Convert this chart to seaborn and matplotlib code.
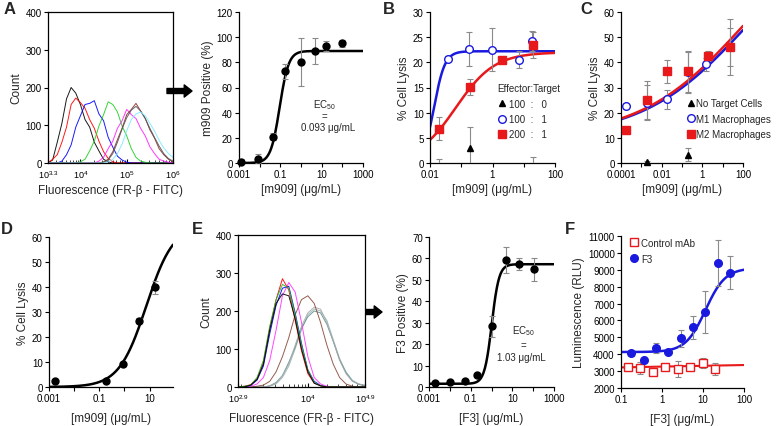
import numpy as np
import matplotlib
matplotlib.use('Agg')
import matplotlib.pyplot as plt
import seaborn as sns
from matplotlib.lines import Line2D

sns.set_theme(style='ticks')
plt.rcParams['font.family'] = ['Liberation Sans', 'DejaVu Sans']
plt.rcParams['mathtext.default'] = 'regular'

# ---------- histogram data (counts per log10 bin) ----------
hist_a_log = np.round(np.arange(3.3, 6.01, 0.1), 1)
hist_a = {
    'black':   [0, 8, 55, 105, 170, 200, 185, 155, 115, 95, 55, 32, 10, 3, 0, 0, 0, 0, 0, 0, 0, 0, 0, 0, 0, 0, 0, 0],
    'red':     [0, 10, 22, 55, 95, 155, 172, 160, 145, 115, 92, 58, 30, 12, 3, 0, 0, 0, 0, 0, 0, 0, 0, 0, 0, 0, 0, 0],
    'blue':    [0, 0, 0, 5, 22, 48, 95, 125, 155, 158, 165, 130, 112, 68, 42, 18, 8, 2, 0, 0, 0, 0, 0, 0, 0, 0, 0, 0],
    '#1fd11f': [0, 0, 0, 0, 0, 0, 0, 3, 10, 32, 58, 98, 128, 162, 155, 135, 98, 72, 38, 15, 5, 2, 0, 0, 0, 0, 0, 0],
    '#ff22ff': [0, 0, 0, 0, 0, 0, 0, 0, 0, 0, 0, 5, 15, 38, 58, 92, 112, 142, 128, 118, 92, 72, 43, 25, 10, 5, 2, 0],
    '#8b2f2f': [0, 0, 0, 0, 0, 0, 0, 0, 0, 0, 0, 0, 3, 10, 30, 62, 92, 128, 142, 158, 138, 118, 88, 66, 38, 22, 10, 3],
    '#555555': [0, 0, 0, 0, 0, 0, 0, 0, 0, 0, 0, 0, 2, 8, 25, 55, 90, 120, 140, 150, 138, 118, 92, 68, 45, 25, 12, 5],
    '#7fe8ff': [0, 0, 0, 0, 0, 0, 0, 0, 0, 0, 0, 0, 0, 3, 10, 25, 50, 85, 115, 130, 135, 125, 105, 85, 60, 40, 25, 15],
}

hist_e_log = np.round(np.arange(2.9, 4.91, 0.1), 1)
hist_e = {
    '#9ab8b8': [0, 0, 0, 0, 0, 2, 8, 25, 55, 100, 150, 190, 205, 200, 175, 125, 75, 40, 18, 8, 4],
    '#5f8f8f': [0, 0, 0, 0, 0, 3, 12, 30, 65, 105, 155, 185, 200, 195, 165, 120, 72, 38, 16, 7, 3],
    '#aaaaaa': [0, 0, 0, 0, 0, 3, 10, 30, 60, 110, 160, 195, 210, 205, 170, 120, 70, 35, 15, 8, 5],
    '#8b4a3a': [0, 0, 0, 2, 5, 15, 40, 80, 130, 190, 230, 240, 220, 170, 110, 60, 25, 8, 2, 0, 0],
    '#ff33ff': [0, 0, 2, 8, 25, 70, 150, 240, 275, 250, 170, 80, 25, 8, 2, 0, 0, 0, 0, 0, 0],
    'blue':    [0, 1, 4, 18, 55, 140, 215, 260, 265, 195, 115, 45, 15, 4, 0, 0, 0, 0, 0, 0, 0],
    'red':     [0, 2, 6, 22, 65, 155, 230, 285, 255, 175, 95, 35, 10, 3, 0, 0, 0, 0, 0, 0, 0],
    '#22bb22': [0, 2, 5, 25, 70, 160, 230, 270, 260, 190, 110, 45, 12, 3, 0, 0, 0, 0, 0, 0, 0],
    'black':   [0, 0, 5, 20, 60, 150, 220, 245, 240, 180, 100, 40, 10, 3, 0, 0, 0, 0, 0, 0, 0],
}

# ---------- dose-response data ----------
a_conc = [0.0013, 0.008, 0.045, 0.17, 0.97, 4.6, 17, 95]
a_pos = [0.5, 3.4, 21, 73, 80, 89, 92.7, 95]
a_err = [3, 3.5, 3, 6, 19, 10, 4, 3]
a_fit = (0, 89, 0.093, 2.0)

b_circ_conc = [0.037, 0.18, 0.94, 7.2, 17.8]
b_circ = [20.7, 22.7, 22.5, 20.5, 24.2]
b_circ_err = [0.5, 3.4, 4.3, 1.7, 2.0]
b_sq_conc = [0.02, 0.195, 1.95, 19.3]
b_sq = [6.8, 15.1, 20.4, 23.4]
b_sq_err = [2.3, 1.6, 0.6, 2.6]
b_tri_conc = [0.02, 0.195, 19.3]
b_tri = [-1.0, 3.0, -1.0]
b_tri_err = [1.7, 4.2, 2.1]
b_fit_blue = (0, 22.2, 0.0135, 2.5)
b_fit_red = (0, 22.0, 0.067, 0.7)

c_sq_conc = [0.00018, 0.0019, 0.019, 0.2, 1.95, 22]
c_sq = [13, 24.9, 36.4, 36.4, 42.5, 46]
c_sq_err = [1, 7.5, 4.5, 8.3, 2, 11.2]
c_circ_conc = [0.00018, 0.0019, 0.019, 0.2, 1.6, 22]
c_circ = [22.5, 24, 25.3, 36, 39.2, 46]
c_circ_err = [1, 7, 3.8, 8, 2.5, 7.5]
c_tri_conc = [0.0019, 0.2]
c_tri = [0.3, 3.3]
c_tri_err = [0.5, 2.5]
c_fit_blue = (10, 100, 178, 0.168)
c_fit_red = (10, 100, 115, 0.17)

d_conc = [0.00167, 0.19, 0.88, 3.77, 16.8]
d_lysis = [2.3, 2.5, 9.2, 26.5, 39.9]
d_err = [0.3, 0.5, 0.8, 1.0, 2.5]
d_fit = (0, 65, 7.4, 0.8)

e_conc = [0.002, 0.01, 0.052, 0.2, 1.07, 5.2, 21, 105]
e_pos = [2.0, 2.3, 2.6, 5.4, 28.3, 59.4, 57.5, 54.9]
e_err = [0.5, 0.5, 0.6, 0.8, 5, 6, 2.7, 5.4]
e_fit = (1.5, 57.3, 1.03, 2.5)

f_conc = [0.175, 0.355, 0.72, 1.43, 2.9, 5.77, 11.5, 23.3, 46.6]
f_lum = [4068, 3654, 4343, 4146, 4954, 5584, 6510, 9385, 8833]
f_err = [150, 150, 300, 150, 500, 680, 1250, 1350, 1000]
ctrl_conc = [0.148, 0.295, 0.6, 1.19, 2.4, 4.8, 9.8, 19.7]
ctrl_lum = [3260, 3162, 2926, 3221, 3122, 3260, 3457, 3122]
ctrl_err = [150, 350, 100, 150, 450, 150, 300, 350]
f_fit = (4130, 9100, 11.5, 1.8)
ctrl_fit_x = [0.1, 100]
ctrl_fit_y = [3220, 3360]

W, H = 778, 427
fig = plt.figure(figsize=(W / 100, H / 100), dpi=100)


def px_axes(l, t, r, b):
    return fig.add_axes([l / W, 1 - b / H, (r - l) / W, (b - t) / H])


def logistic(x, bottom, top, ec50, hill):
    return bottom + (top - bottom) / (1 + (ec50 / x) ** hill)


def fit_line(ax, params, lo, hi, color):
    xs = np.logspace(np.log10(lo), np.log10(hi), 200)
    sns.lineplot(x=xs, y=logistic(xs, *params), ax=ax, color=color, lw=1.8,
                 estimator=None, sort=False, zorder=2)


def points(ax, x, y, err, marker, color, filled=True, ms=5):
    ax.errorbar(x, y, yerr=err, fmt='none', ecolor='#8a8a8a', elinewidth=0.8,
                capsize=2, capthick=0.8, zorder=3)
    ax.plot(x, y, ls='', marker=marker, ms=ms, color=color,
            mfc=color if filled else 'white', mew=1.0, zorder=4, clip_on=False)


def style_dose(ax, xlim, ylim, yticks, xticks, xlabels, xlabel, ylabel, pad):
    ax.set_xscale('log')
    ax.set_xlim(*xlim)
    ax.set_ylim(*ylim)
    ax.set_yticks(yticks)
    ax.set_xticks(xticks)
    ax.set_xticklabels(xlabels)
    ax.xaxis.set_minor_locator(matplotlib.ticker.NullLocator())
    for s in ['top', 'right']:
        ax.spines[s].set_visible(False)
    for s in ['left', 'bottom']:
        ax.spines[s].set_linewidth(0.9)
        ax.spines[s].set_color('black')
    ax.tick_params(labelsize=7, length=3, width=0.8, pad=1.5, colors='black')
    ax.set_xlabel(xlabel, fontsize=8.5, labelpad=pad)
    ax.set_ylabel(ylabel, fontsize=8.5, labelpad=2)


def style_hist(ax, lo, hi, xt, xl, pad):
    ax.set_xscale('log')
    ax.set_xlim(10 ** lo, 10 ** hi)
    ax.set_ylim(0, 400)
    ax.set_yticks([0, 100, 200, 300, 400])
    ax.set_xticks([10 ** v for v in xt])
    ax.set_xticklabels(xl)
    minors = [m * 10 ** d for d in range(2, 6) for m in range(2, 10)
              if lo <= np.log10(m * 10 ** d) <= hi]
    ax.set_xticks(minors, minor=True)
    ax.xaxis.set_minor_formatter(matplotlib.ticker.NullFormatter())
    for s in ax.spines.values():
        s.set_linewidth(0.9)
        s.set_color('black')
    ax.tick_params(labelsize=7, width=0.8, pad=1.5, colors='black')
    ax.tick_params(axis='x', which='major', direction='in', length=3, pad=4,
                   labelsize=6.5)
    ax.tick_params(axis='x', which='minor', direction='in', length=2, width=0.6)
    ax.tick_params(axis='y', direction='out', length=3)
    ax.set_xlabel('Fluorescence (FR-β - FITC)', fontsize=8.5, labelpad=pad)
    ax.set_ylabel('Count', fontsize=8.5, labelpad=2)


dec = lambda a, b: [10.0 ** k for k in range(a, b + 1)]

# ---------- A histogram ----------
ax = px_axes(48, 13, 173, 164)
for col, vals in hist_a.items():
    sns.lineplot(x=10 ** hist_a_log, y=vals, ax=ax, color=col, lw=0.7,
                 estimator=None, sort=False, alpha=0.9)
style_hist(ax, 3.3, 6.0, [3.3, 4, 5, 6],
           ['10$^{3.3}$', '10$^{4}$', '10$^{5}$', '10$^{6}$'], 3)

# ---------- A dose ----------
ax = px_axes(239, 13, 363, 164)
fit_line(ax, a_fit, 1e-3, 1e3, 'black')
points(ax, a_conc, a_pos, a_err, 'o', 'black')
style_dose(ax, (1e-3, 1e3), (0, 120), range(0, 121, 20), dec(-3, 3),
           ['0.001', '', '0.1', '', '10', '', '1000'],
           '[m909] (μg/mL)', 'm909 Positive (%)', 3)

# ---------- B ----------
ax = px_axes(430, 13, 555, 164)
fit_line(ax, b_fit_blue, 0.01, 100, '#1a1adf')
fit_line(ax, b_fit_red, 0.01, 100, '#e8191a')
points(ax, b_tri_conc, b_tri, b_tri_err, '^', 'black')
ax.lines[-1].set_clip_on(True)
points(ax, b_circ_conc, b_circ, b_circ_err, 'o', '#1a1adf', filled=False, ms=5.5)
points(ax, b_sq_conc, b_sq, b_sq_err, 's', '#e8191a', ms=5.5)
style_dose(ax, (0.01, 100), (0, 30), range(0, 31, 5), dec(-2, 2),
           ['0.01', '', '1', '', '100'],
           '[m909] (μg/mL)', '% Cell Lysis', 3)
hb = [Line2D([], [], ls='', marker='^', color='black', ms=5),
      Line2D([], [], ls='', marker='o', color='#1a1adf', mfc='white', ms=5.5),
      Line2D([], [], ls='', marker='s', color='#e8191a', ms=5.5)]
ax.legend(hb, ['100  :   0', '100  :   1', '200  :   1'], title='Effector:Target',
          loc='upper left', bbox_to_anchor=(0.5, 0.56), frameon=False, fontsize=7,
          title_fontsize=7, handletextpad=0.2, borderpad=0, labelspacing=0.55,
          handlelength=1.0, alignment='left')

# ---------- C ----------
ax = px_axes(621, 13, 743, 164)
fit_line(ax, c_fit_blue, 1e-4, 100, '#1a1adf')
fit_line(ax, c_fit_red, 1e-4, 100, '#e8191a')
points(ax, c_circ_conc, c_circ, c_circ_err, 'o', '#1a1adf', filled=False, ms=5.5)
points(ax, c_sq_conc, c_sq, c_sq_err, 's', '#e8191a', ms=5.5)
points(ax, c_tri_conc, c_tri, c_tri_err, '^', 'black')
style_dose(ax, (1e-4, 100), (0, 60), range(0, 61, 10), dec(-4, 2),
           ['0.0001', '', '0.01', '', '1', '', '100'],
           '[m909] (μg/mL)', '% Cell Lysis', 3)
hc = [Line2D([], [], ls='', marker='^', color='black', ms=5),
      Line2D([], [], ls='', marker='o', color='#1a1adf', mfc='white', ms=5.5),
      Line2D([], [], ls='', marker='s', color='#e8191a', ms=5.5)]
ax.legend(hc, ['No Target Cells', 'M1 Macrophages', 'M2 Macrophages'],
          loc='upper left', bbox_to_anchor=(0.49, 0.46), frameon=False, fontsize=7,
          handletextpad=0.05, borderpad=0, labelspacing=0.55, handlelength=1.0)

# ---------- D ----------
ax = px_axes(49, 238, 173, 388)
fit_line(ax, d_fit, 1e-3, 85, 'black')
points(ax, d_conc, d_lysis, d_err, 'o', 'black')
style_dose(ax, (1e-3, 85), (0, 60), range(0, 61, 10), dec(-3, 1),
           ['0.001', '', '0.1', '', '10'],
           '[m909] (μg/mL)', '% Cell Lysis', 6.5)

# ---------- E histogram ----------
ax = px_axes(238, 236, 365, 388)
for col, vals in hist_e.items():
    sns.lineplot(x=10 ** hist_e_log, y=vals, ax=ax, color=col, lw=0.7,
                 estimator=None, sort=False, alpha=0.9)
style_hist(ax, 2.9, 4.9, [2.9, 4, 4.9],
           ['10$^{2.9}$', '10$^{4}$', '10$^{4.9}$'], 5.5)

# ---------- E dose ----------
ax = px_axes(429, 238, 554, 388)
fit_line(ax, e_fit, 1e-3, 1e3, 'black')
points(ax, e_conc, e_pos, e_err, 'o', 'black')
style_dose(ax, (1e-3, 1e3), (0, 70), range(0, 71, 10), dec(-3, 3),
           ['0.001', '', '0.1', '', '10', '', '1000'],
           '[F3] (μg/mL)', 'F3 Positive (%)', 6.5)

# ---------- F ----------
ax = px_axes(621, 237, 744, 389)
sns.lineplot(x=ctrl_fit_x, y=ctrl_fit_y, ax=ax, color='#e8191a', lw=1.5,
             estimator=None, sort=False)
fit_line(ax, f_fit, 0.1, 100, '#1a1adf')
points(ax, ctrl_conc, ctrl_lum, ctrl_err, 's', '#e8191a', filled=False, ms=5.5)
points(ax, f_conc, f_lum, f_err, 'o', '#1a1adf', ms=5.5)
style_dose(ax, (0.1, 100), (2000, 11000), range(2000, 11001, 1000), dec(-1, 2),
           ['0.1', '1', '10', '100'],
           '[F3] (μg/mL)', 'Luminescence (RLU)', 6.5)
hf = [Line2D([], [], ls='', marker='s', color='#e8191a', mfc='white', ms=5.5),
      Line2D([], [], ls='', marker='o', color='#1a1adf', ms=5.5)]
ax.legend(hf, ['Control mAb', 'F3'], loc='upper left', bbox_to_anchor=(0.03, 1.02),
          frameon=False, fontsize=7, handletextpad=0.2, borderpad=0,
          labelspacing=0.6, handlelength=1.0)

# ---------- annotations ----------
for (x, y, s) in [(324, 105, 'EC$_{50}$'), (324, 117, '='), (328, 128, '0.093 μg/mL'),
                  (523, 331, 'EC$_{50}$'), (523, 346, '='), (521, 358, '1.03 μg/mL')]:
    fig.text(x / W, 1 - y / H, s, ha='center', va='center', fontsize=7)

for (x, y, s) in [(4, 2, 'A'), (383, 2, 'B'), (580, 2, 'C'),
                  (1, 222, 'D'), (192, 222, 'E'), (565, 222, 'F')]:
    fig.text(x / W, 1 - y / H, s, ha='left', va='top', fontsize=12, fontweight='bold')

for (x0, x1, y) in [(167, 192, 92), (356, 382, 313)]:
    fig.axes[0].annotate('', xy=(x1, H - y), xytext=(x0, H - y),
                         xycoords='figure pixels', textcoords='figure pixels',
                         arrowprops=dict(arrowstyle='simple,head_length=0.7,head_width=1.1,tail_width=0.45',
                                         color='black', mutation_scale=8, shrinkA=0, shrinkB=0))

fig.savefig('out.png', dpi=100)
